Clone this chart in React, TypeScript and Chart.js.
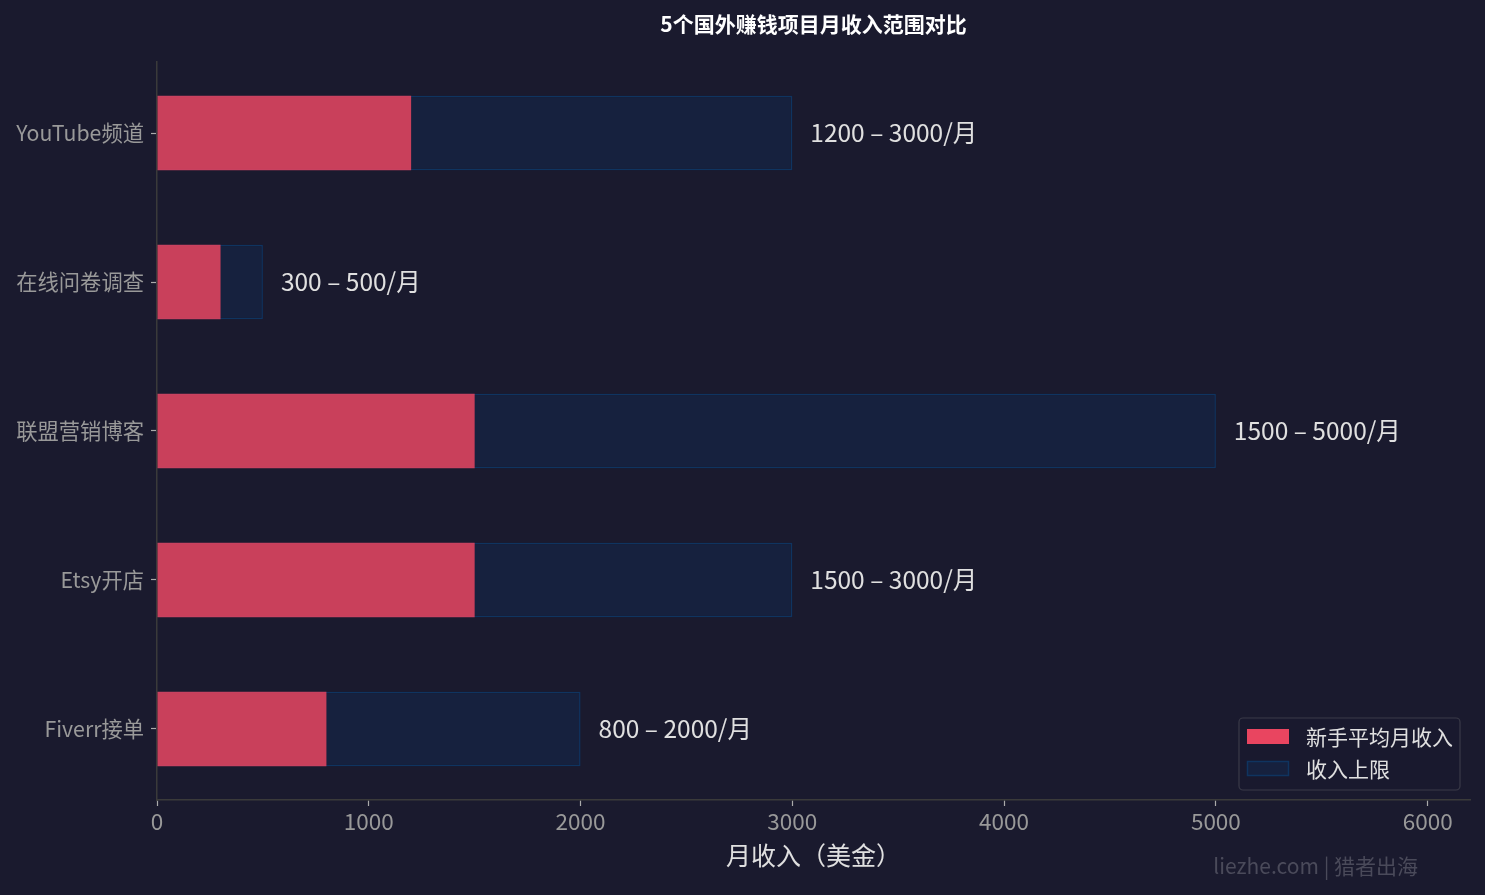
import React, { useEffect, useRef } from "react";
import { Chart, registerables } from "chart.js";

Chart.register(...registerables);

const categories = ["YouTube频道", "在线问卷调查", "联盟营销博客", "Etsy开店", "Fiverr接单"];
const beginnerIncome = [1200, 300, 1500, 1500, 800];
const upperIncome = [3000, 500, 5000, 3000, 2000];
const xTicks = [0, 1000, 2000, 3000, 4000, 5000, 6000];

const TITLE = "5个国外赚钱项目月收入范围对比";
const X_TITLE = "月收入（美金）";
const LEGEND_LABELS = ["新手平均月收入", "收入上限"];
const WATERMARK = "liezhe.com | 猎者出海";

const FONT = "'Noto Sans CJK SC', 'Noto Sans', sans-serif";
const BG = "#1a1a2e";
const RED = "#e94560";
const RED_BAR = "rgba(233,69,96,0.85)";
const NAVY = "#16213e";
const NAVY_EDGE = "#0f3460";

const overlayPlugin = {
  id: "overlay",
  beforeDraw(chart: any) {
    const { ctx, width, height } = chart;
    ctx.save();
    ctx.fillStyle = BG;
    ctx.fillRect(0, 0, width, height);
    ctx.restore();
  },
  afterDraw(chart: any) {
    const { ctx, chartArea } = chart;
    const xs = chart.scales.x;
    const ys = chart.scales.y;
    const cx = (chartArea.left + chartArea.right) / 2;
    ctx.save();
    // title
    ctx.fillStyle = "#ffffff";
    ctx.font = `bold 21px ${FONT}`;
    ctx.textAlign = "center";
    ctx.textBaseline = "middle";
    ctx.fillText(TITLE, cx, 24);
    // x axis title
    ctx.fillStyle = "#e0e0e0";
    ctx.font = `25px ${FONT}`;
    ctx.fillText(X_TITLE, cx, 855);
    // value labels
    ctx.font = `24.5px ${FONT}`;
    ctx.textAlign = "left";
    categories.forEach((_, i) => {
      const x = xs.getPixelForValue(upperIncome[i]) + 18;
      const y = ys.getPixelForValue(i);
      ctx.fillText(`${beginnerIncome[i]} \u2013 ${upperIncome[i]}/月`, x, y);
    });
    // legend
    const lx = 1239, ly = 718, lw = 221, lh = 72;
    ctx.beginPath();
    const r = 4;
    ctx.moveTo(lx + r, ly);
    ctx.arcTo(lx + lw, ly, lx + lw, ly + lh, r);
    ctx.arcTo(lx + lw, ly + lh, lx, ly + lh, r);
    ctx.arcTo(lx, ly + lh, lx, ly, r);
    ctx.arcTo(lx, ly, lx + lw, ly, r);
    ctx.closePath();
    ctx.fillStyle = "rgba(26,26,46,0.85)";
    ctx.fill();
    ctx.strokeStyle = "#3a3a48";
    ctx.lineWidth = 1.2;
    ctx.stroke();
    ctx.fillStyle = RED;
    ctx.fillRect(1247, 729, 42, 15);
    ctx.fillStyle = NAVY;
    ctx.fillRect(1247, 761, 42, 15);
    ctx.strokeStyle = NAVY_EDGE;
    ctx.lineWidth = 1.5;
    ctx.strokeRect(1247.5, 761.5, 41, 14);
    ctx.fillStyle = "#e0e0e0";
    ctx.font = `21px ${FONT}`;
    ctx.fillText(LEGEND_LABELS[0], 1306, 737);
    ctx.fillText(LEGEND_LABELS[1], 1306, 769);
    // watermark
    ctx.fillStyle = "#4a4a5a";
    ctx.font = `21px ${FONT}`;
    ctx.textAlign = "right";
    ctx.fillText(WATERMARK, 1418, 866);
    ctx.restore();
  },
};

export default function App() {
  const ref = useRef<HTMLCanvasElement>(null);
  useEffect(() => {
    document.body.style.margin = "0";
    document.body.style.background = BG;
    const chart = new Chart(ref.current!, {
      type: "bar",
      data: {
        datasets: [
          {
            label: LEGEND_LABELS[0],
            data: beginnerIncome.map((v, i) => ({ x: v, y: i })),
            backgroundColor: RED_BAR,
            borderWidth: 0,
            grouped: false,
            categoryPercentage: 1,
            barPercentage: 0.5,
          } as any,
          {
            label: LEGEND_LABELS[1],
            data: upperIncome.map((v, i) => ({ x: v, y: i })),
            backgroundColor: NAVY,
            borderColor: NAVY_EDGE,
            borderWidth: 1.5,
            grouped: false,
            categoryPercentage: 1,
            barPercentage: 0.5,
          } as any,
        ],
      },
      options: {
        indexAxis: "y",
        animation: false,
        responsive: false,
        devicePixelRatio: 1,
        layout: { padding: { top: 62, right: 15, left: 0, bottom: 0 } },
        plugins: {
          legend: { display: false },
          title: { display: false },
          tooltip: { enabled: false },
        },
        scales: {
          x: {
            type: "linear",
            min: 0,
            max: 6200,
            afterBuildTicks: (scale: any) => {
              scale.ticks = xTicks.map((v) => ({ value: v }));
            },
            afterFit: (scale: any) => {
              scale.height = 95;
            },
            grid: {
              display: true,
              offset: false,
              drawOnChartArea: false,
              drawTicks: true,
              tickLength: 6,
              tickColor: "#aaaaaa",
              tickWidth: 1.2,
            },
            border: { display: true, color: "#3a3a3a", width: 1.5 },
            ticks: {
              color: "#999999",
              font: { family: FONT, size: 22.5 },
              padding: 2,
              maxRotation: 0,
              callback: (v: any) => String(v),
            },
          },
          y: {
            type: "linear",
            reverse: true,
            min: -0.477,
            max: 4.477,
            offset: false,
            afterBuildTicks: (scale: any) => {
              scale.ticks = categories.map((_, i) => ({ value: i }));
            },
            afterFit: (scale: any) => {
              scale.width = 157;
            },
            grid: {
              display: true,
              offset: false,
              drawOnChartArea: false,
              drawTicks: true,
              tickLength: 6,
              tickColor: "#aaaaaa",
              tickWidth: 1.2,
            },
            border: { display: true, color: "#3a3a3a", width: 1.5 },
            ticks: {
              color: "#999999",
              font: { family: FONT, size: 21.3 },
              padding: 7,
              callback: (v: any) => categories[v] ?? "",
            },
          },
        },
      },
      plugins: [overlayPlugin],
    });
    return () => chart.destroy();
  }, []);
  return (
    <div style={{ width: 1485, height: 895, background: BG }}>
      <canvas ref={ref} width={1485} height={895} style={{ display: "block", width: 1485, height: 895 }} />
    </div>
  );
}
